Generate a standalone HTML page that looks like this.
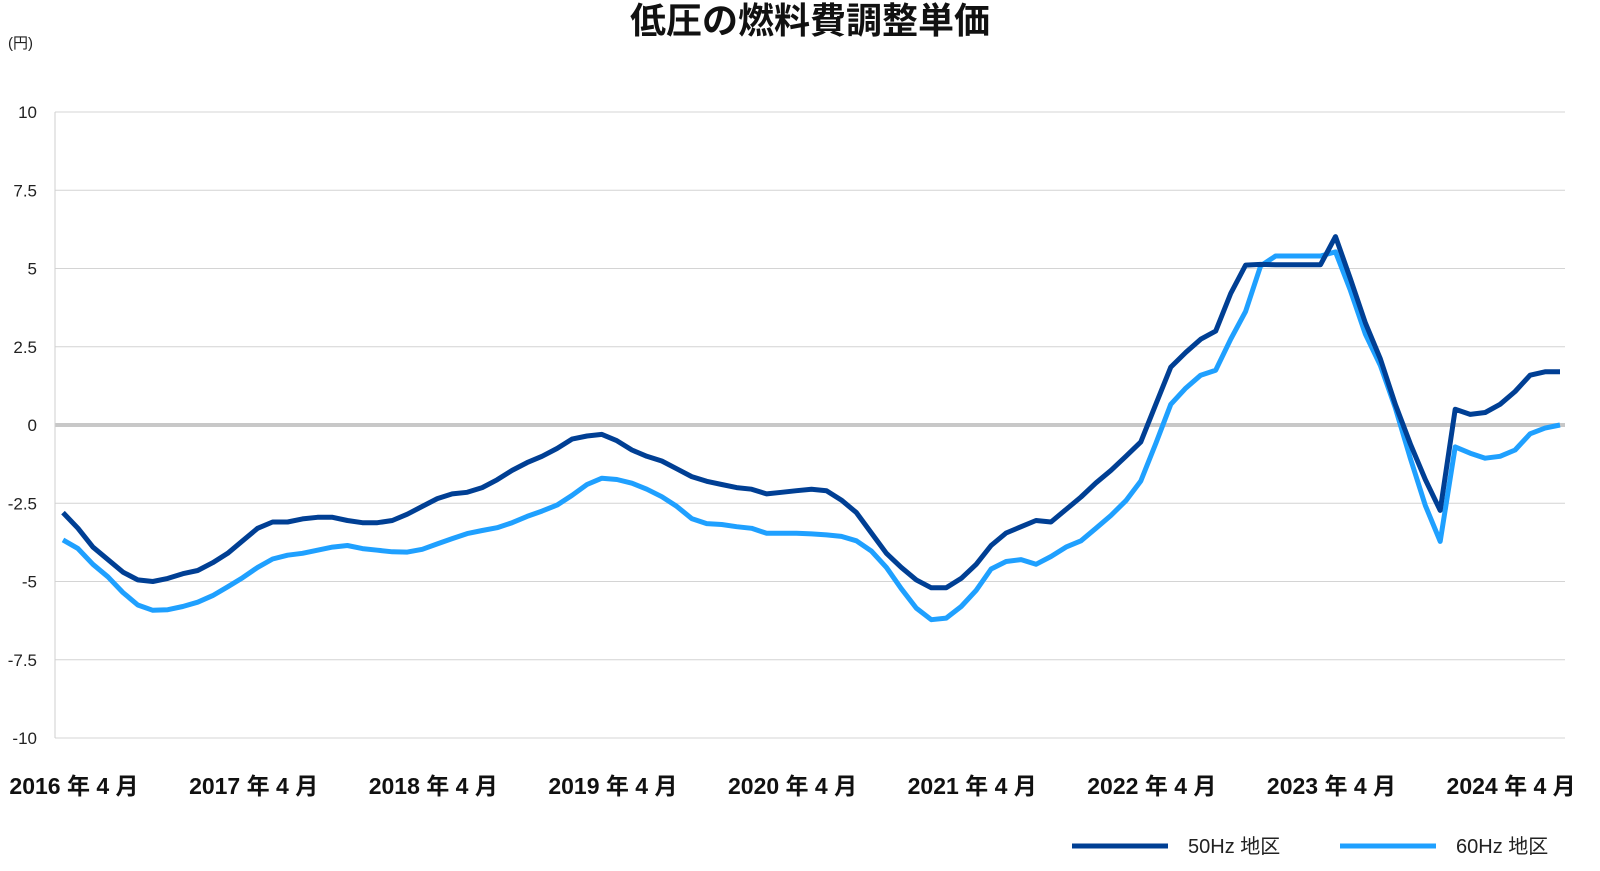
<!DOCTYPE html>
<html><head><meta charset="utf-8">
<style>
html,body{margin:0;padding:0;background:#fff;}
svg{display:block;font-family:"Liberation Sans","Noto Sans CJK JP",sans-serif;}
</style></head>
<body>
<svg id="chart" width="1600" height="871" viewBox="0 0 1600 871">
<text x="810" y="33" text-anchor="middle" font-size="36" font-weight="bold" fill="#111" font-family="'Liberation Sans','Noto Sans CJK JP',sans-serif">低圧の燃料費調整単価</text>
<text x="8" y="48" font-size="15" fill="#222">(円)</text>
<g id="grid"></g>
<g id="series"></g>
<g>
<line x1="1072" y1="846" x2="1168" y2="846" stroke="#003f94" stroke-width="5"/>
<text x="1188" y="853" font-size="20" fill="#222">50Hz 地区</text>
<line x1="1340" y1="846" x2="1436" y2="846" stroke="#1fa0ff" stroke-width="5"/>
<text x="1456" y="853" font-size="20" fill="#222">60Hz 地区</text>
</g>
</svg>
<script>
const yTicks = [10, 7.5, 5, 2.5, 0, -2.5, -5, -7.5, -10];
const yTickLabels = ["10","7.5","5","2.5","0","-2.5","-5","-7.5","-10"];
const xLabelIdx = [0,12,24,36,48,60,72,84,96];
const xLabels = ["2016 年 4 月","2017 年 4 月","2018 年 4 月","2019 年 4 月","2020 年 4 月","2021 年 4 月","2022 年 4 月","2023 年 4 月","2024 年 4 月"];
const hz50 = [-2.8,-3.3,-3.9,-4.3,-4.7,-4.95,-5.0,-4.9,-4.75,-4.65,-4.4,-4.1,-3.7,-3.3,-3.1,-3.1,-3.0,-2.95,-2.95,-3.05,-3.12,-3.12,-3.05,-2.85,-2.6,-2.35,-2.2,-2.15,-2.0,-1.75,-1.45,-1.2,-1.0,-0.75,-0.45,-0.35,
-0.3,-0.5,-0.8,-1.0,-1.15,-1.4,-1.65,-1.8,-1.9,-2.0,-2.05,-2.2,-2.15,-2.1,-2.05,-2.1,-2.4,-2.8,-3.45,-4.1,-4.55,-4.95,-5.2,-5.2,-4.9,-4.45,-3.85,-3.45,-3.25,-3.05,-3.1,-2.7,
-2.3,-1.85,-1.45,-1.0,-0.54,0.66,1.85,2.32,2.74,3.0,4.2,5.11,5.13,5.12,5.12,5.12,5.12,6.02,4.67,3.26,2.11,0.66,-0.6,-1.74,-2.73,0.5,0.34,0.4,0.66,1.07,1.59,1.7,1.7];
const hz60 = [-3.67,-3.95,-4.45,-4.85,-5.35,-5.75,-5.92,-5.9,-5.8,-5.66,-5.45,-5.17,-4.88,-4.55,-4.28,-4.16,-4.1,-4.0,-3.9,-3.85,-3.95,-4.0,-4.05,-4.06,-3.97,-3.8,-3.63,-3.47,-3.37,-3.28,-3.12,-2.92,-2.75,-2.56,-2.25,-1.9,
-1.7,-1.74,-1.86,-2.05,-2.29,-2.6,-2.99,-3.15,-3.18,-3.25,-3.3,-3.46,-3.46,-3.46,-3.48,-3.51,-3.56,-3.7,-4.03,-4.55,-5.23,-5.85,-6.22,-6.17,-5.8,-5.28,-4.6,-4.36,-4.3,-4.45,-4.2,-3.9,-3.7,
-3.3,-2.89,-2.42,-1.79,-0.59,0.66,1.18,1.59,1.75,2.74,3.63,5.08,5.4,5.4,5.4,5.4,5.53,4.3,2.9,1.9,0.55,-1.06,-2.57,-3.72,-0.7,-0.9,-1.06,-1.0,-0.8,-0.28,-0.1,0.0];

const NS = "http://www.w3.org/2000/svg";
const plotL = 55, plotR = 1565, plotT = 112, plotB = 738;
const x0 = 63, x1 = 1560;
const yMin = -10, yMax = 10;
function yScale(v){ return plotB - (v - yMin) / (yMax - yMin) * (plotB - plotT); }
function xScale(i){ return x0 + i * (x1 - x0) / (hz50.length - 1); }

const grid = document.getElementById('grid');
yTicks.forEach((t, k) => {
  const y = yScale(t);
  const ln = document.createElementNS(NS, 'line');
  ln.setAttribute('x1', plotL); ln.setAttribute('x2', plotR);
  ln.setAttribute('y1', y); ln.setAttribute('y2', y);
  ln.setAttribute('stroke', t === 0 ? '#c8c8c8' : '#d4d4d4');
  ln.setAttribute('stroke-width', t === 0 ? 4 : 1);
  
  
  grid.appendChild(ln);
  const tx = document.createElementNS(NS, 'text');
  tx.setAttribute('x', 37); tx.setAttribute('y', y + 6);
  tx.setAttribute('text-anchor', 'end'); tx.setAttribute('font-size', '17'); tx.setAttribute('fill', '#222');
  tx.textContent = yTickLabels[k];
  
  
  grid.appendChild(tx);
});
const ax = document.createElementNS(NS, 'line');
ax.setAttribute('x1', plotL); ax.setAttribute('x2', plotL);
ax.setAttribute('y1', plotT); ax.setAttribute('y2', plotB);
ax.setAttribute('stroke', '#cfcfcf'); ax.setAttribute('stroke-width', 1);


grid.appendChild(ax);
xLabelIdx.forEach((idx, k) => {
  const tx = document.createElementNS(NS, 'text');
  tx.setAttribute('x', xScale(idx) + 11); tx.setAttribute('y', 794);
  tx.setAttribute('text-anchor', 'middle'); tx.setAttribute('font-size', '23'); tx.setAttribute('fill', '#111');
  tx.setAttribute('font-weight', 'bold');
  tx.textContent = xLabels[k];
  
  
  grid.appendChild(tx);
});

const series = document.getElementById('series');
function drawLine(arr, color, name){
  const p = document.createElementNS(NS, 'polyline');
  p.setAttribute('points', arr.map((v, i) => xScale(i).toFixed(1) + ',' + yScale(v).toFixed(1)).join(' '));
  p.setAttribute('fill', 'none'); p.setAttribute('stroke', color); p.setAttribute('stroke-width', 5);
  p.setAttribute('stroke-linejoin', 'round');
  
  
  series.appendChild(p);
}
drawLine(hz60, '#1fa0ff', 'line-60hz');
drawLine(hz50, '#003f94', 'line-50hz');
</script>
</body></html>
